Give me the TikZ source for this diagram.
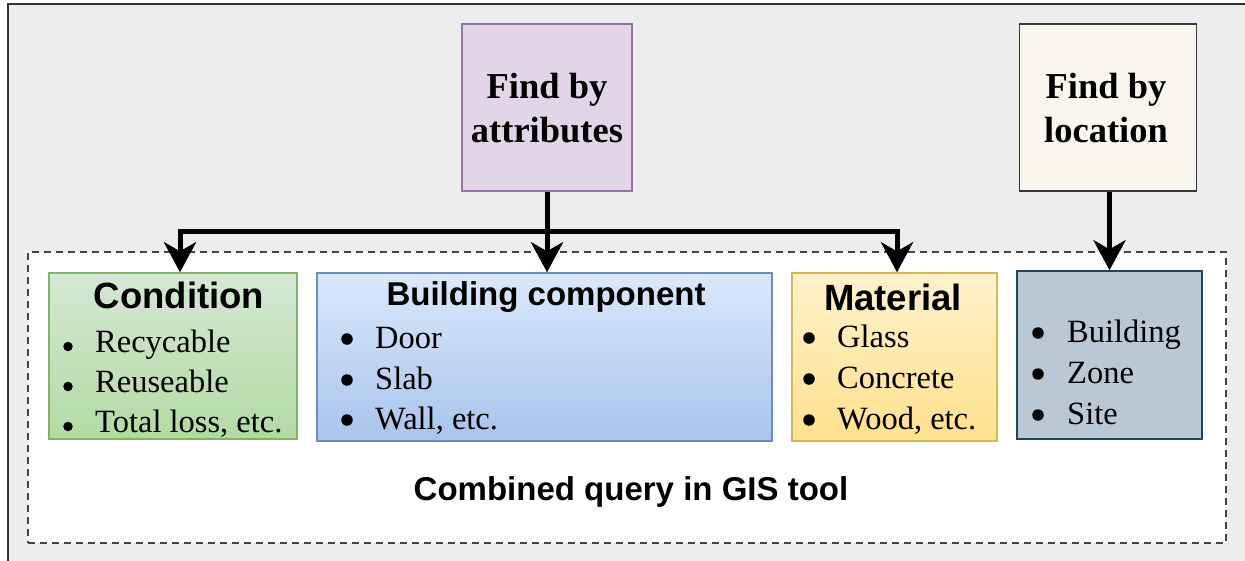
\documentclass[tikz,border=0pt]{standalone}
\usepackage{fontspec}
\setmainfont{Liberation Serif}
\newfontfamily\headfont{Liberation Sans}
\usetikzlibrary{arrows.meta}

\definecolor{pagebg}{HTML}{EDEDED}
\definecolor{framec}{HTML}{333333}
\definecolor{attrfill}{HTML}{E1D5E7}
\definecolor{attrline}{HTML}{9673A6}
\definecolor{locfill}{HTML}{F9F7ED}
\definecolor{locline}{HTML}{36393D}
\definecolor{condtop}{HTML}{D5E8D4}
\definecolor{condbot}{HTML}{B3DAA3}
\definecolor{condline}{HTML}{82B366}
\definecolor{comptop}{HTML}{DAE8FC}
\definecolor{compbot}{HTML}{A9C4EB}
\definecolor{compline}{HTML}{6C8EBF}
\definecolor{mattop}{HTML}{FFF2CC}
\definecolor{matbot}{HTML}{FFE08C}
\definecolor{matline}{HTML}{D6B656}
\definecolor{sitefill}{HTML}{BAC8D3}
\definecolor{siteline}{HTML}{23445D}
\definecolor{groupline}{HTML}{444444}

\tikzset{
  panel/.style={draw, rectangle, line width=1.5pt, inner sep=0pt},
  group/.style={draw=groupline, fill=white, rectangle, line width=1.6pt,
    dash pattern=on 7pt off 5pt, inner sep=0pt},
  item/.style={inner sep=0pt, anchor=base west, font=\fontsize{32.5}{39}\selectfont},
  dot/.style={circle, fill=black, inner sep=0pt, minimum size=11.5pt},
  smalldot/.style={circle, fill=black, inner sep=0pt, minimum size=9.5pt},
  seriftitle/.style={inner sep=0pt, anchor=base, font=\bfseries\fontsize{36.5}{44}\selectfont},
  sanstitle/.style={inner sep=0pt, anchor=base, font=\headfont\bfseries\fontsize{36.5}{44}\selectfont},
  flow/.style={line width=5pt, -{Stealth[length=30pt,width=32pt,inset=9pt]}},
}

\begin{document}
\begin{tikzpicture}[x=1pt,y=-1pt]
\useasboundingbox (0,0) rectangle (1245,560);
\fill[white] (0,0) rectangle (1245,560);
% outer canvas
\draw[framec, fill=pagebg, line width=2.5pt] (8,4) rectangle (1300,620);

% dashed region of the combined query
\node[group, minimum width=1198pt, minimum height=291pt] (grp) at (627,397.5) {};
\node[inner sep=0pt, anchor=base, font=\headfont\bfseries\fontsize{33}{40}\selectfont]
  (grplabel) at (631,500) {Combined query in GIS tool};

% search entry boxes
\node[panel, draw=attrline, fill=attrfill, minimum width=170pt, minimum height=167pt]
  (attr) at (547,107.5) {};
\node[seriftitle] (attr1) at (547,98) {Find by};
\node[seriftitle] (attr2) at (547,142) {attributes};

\node[panel, draw=locline, fill=locfill, minimum width=177pt, minimum height=167pt]
  (loc) at (1108,107.5) {};
\node[seriftitle] (loc1) at (1106,98) {Find by};
\node[seriftitle] (loc2) at (1106,142) {location};

% attribute boxes
\node[panel, draw=condline, top color=condtop, bottom color=condbot,
  minimum width=248pt, minimum height=166pt] (cond) at (173,356) {};
\node[sanstitle] (condt) at (179,308) {Condition};
\node[smalldot] (cb1) at (68,346.5) {}; \node[item] (ci1) at (95,352) {Recycable};
\node[smalldot] (cb2) at (68,386.5) {}; \node[item] (ci2) at (95,392) {Reuseable};
\node[smalldot] (cb3) at (68,426.5) {}; \node[item] (ci3) at (95,432) {Total loss, etc.};

\node[panel, draw=compline, top color=comptop, bottom color=compbot,
  minimum width=455pt, minimum height=168pt] (comp) at (544.5,357) {};
\node[sanstitle, font=\headfont\bfseries\fontsize{33}{40}\selectfont] (compt) at (546,305) {Building component};
\node[dot] (pb1) at (347,339) {}; \node[item] (pi1) at (375,348) {Door};
\node[dot] (pb2) at (347,380) {}; \node[item] (pi2) at (375,389) {Slab};
\node[dot] (pb3) at (347,420) {}; \node[item] (pi3) at (375,429) {Wall, etc.};

\node[panel, draw=matline, top color=mattop, bottom color=matbot,
  minimum width=205pt, minimum height=168pt] (mat) at (894.5,357) {};
\node[sanstitle] (matt) at (893,310) {Material};
\node[dot] (mb1) at (809,338) {}; \node[item] (mi1) at (837,347) {Glass};
\node[dot] (mb2) at (809,379) {}; \node[item] (mi2) at (837,388) {Concrete};
\node[dot] (mb3) at (809,420) {}; \node[item] (mi3) at (837,429) {Wood, etc.};

% location box
\node[panel, draw=siteline, fill=sitefill, minimum width=185pt, minimum height=168pt]
  (site) at (1109.5,355) {};
\node[dot] (sb1) at (1038,333) {}; \node[item] (si1) at (1067,342) {Building};
\node[dot] (sb2) at (1038,374) {}; \node[item] (si2) at (1067,383) {Zone};
\node[dot] (sb3) at (1038,415) {}; \node[item] (si3) at (1067,424) {Site};

% connectors
\coordinate (bus) at (547,231);
\draw[flow] (attr.south) -- (attr.south |- comp.north);
\draw[flow] (attr.south) -- (bus) -| ([xshift=7pt]cond.north);
\draw[flow] (bus) -| ([xshift=2.5pt]mat.north);
\draw[flow] ([xshift=1.5pt]loc.south) -- ([xshift=1.5pt]loc.south |- site.north);
\end{tikzpicture}
\end{document}
